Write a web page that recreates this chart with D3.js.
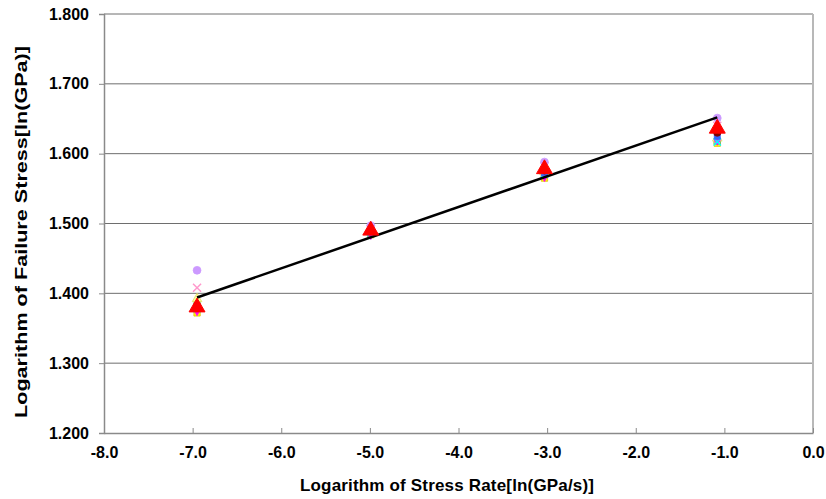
<!DOCTYPE html>
<html>
<head>
<meta charset="utf-8">
<script src="https://cdn.jsdelivr.net/npm/d3@7"></script>
<style>
  body { margin: 0; background: #fff; }
  text { font-family: "Liberation Sans", Arial, sans-serif; font-weight: bold; }
</style>
</head>
<body>
<svg id="chart"></svg>
<script>
const width = 826;
const height = 499;
const margin = {top: 14, right: 13, bottom: 66, left: 104};

// stress rate levels (x)
const stressRates = [-6.95, -4.99, -3.03, -1.08];

// failure stress, one list per specimen series
const seriesA = [1.372, 1.484, 1.565, 1.615];
const seriesB = [1.385, 1.486, 1.570, 1.618];
const seriesC = [1.392, 1.488, 1.574, 1.622];
const seriesD = [1.376, 1.485, 1.568, 1.620];
const seriesE = [1.378, 1.487, 1.571, 1.617];
const seriesF = [1.382, 1.489, 1.576, 1.630];
const seriesG = [1.380, 1.488, 1.573, 1.625];
const seriesH = [1.408, 1.492, 1.582, 1.640];
const seriesI = [1.433, 1.497, 1.588, 1.651];
const meanValues = [1.380, 1.490, 1.578, 1.636];

// fitted line end points
const fitX = [-6.95, -1.08];
const fitY = [1.394, 1.652];

const xTicks = [-8, -7, -6, -5, -4, -3, -2, -1, 0];
const yTicks = [1.2, 1.3, 1.4, 1.5, 1.6, 1.7, 1.8];

const series = [
  {values: seriesA, shape: d3.symbolSquare, fill: '#FFFF00', stroke: '#E0C000', size: 40},
  {values: seriesB, shape: d3.symbolSquare, fill: '#CCFFCC', stroke: '#66AA66', size: 40},
  {values: seriesC, shape: d3.symbolTriangle, fill: '#FFFF99', stroke: '#DDDD66', size: 40},
  {values: seriesD, shape: d3.symbolDiamond, fill: '#FF00FF', stroke: '#FF00FF', size: 36},
  {values: seriesE, shape: d3.symbolX, fill: '#00FFFF', stroke: '#00FFFF', size: 36},
  {values: seriesG, shape: d3.symbolSquare, fill: '#3366FF', stroke: '#3366FF', size: 36},
  {values: seriesF, shape: d3.symbolCircle, fill: '#800000', stroke: '#800000', size: 40},
  {values: seriesH, shape: d3.symbolX, fill: '#FF99CC', stroke: '#FF99CC', size: 44},
  {values: seriesI, shape: d3.symbolCircle, fill: '#CC99FF', stroke: '#CC99FF', size: 48}
];

const svg = d3.select('#chart').attr('width', width).attr('height', height);

const x = d3.scaleLinear().domain([-8, 0]).range([margin.left, width - margin.right]);
const y = d3.scaleLinear().domain([1.2, 1.8]).range([height - margin.bottom, margin.top]);

// hyphen minus like the original, not the unicode minus
const fmtX = d => d.toFixed(1);
const fmtY = d => d.toFixed(3);

// horizontal gridlines
svg.append('g').selectAll('line').data(yTicks.slice(1)).join('line')
  .attr('x1', x(-8)).attr('x2', x(0))
  .attr('y1', d => y(d)).attr('y2', d => y(d))
  .attr('stroke', '#6e6e6e').attr('stroke-width', 1);

// right border of plot area
svg.append('line')
  .attr('x1', x(0)).attr('x2', x(0)).attr('y1', y(1.8)).attr('y2', y(1.2))
  .attr('stroke', '#b8b8b8').attr('stroke-width', 2);

const yAxis = svg.append('g').attr('transform', `translate(${x(-8)},0)`)
  .call(d3.axisLeft(y).tickValues(yTicks).tickFormat(fmtY).tickSize(5).tickPadding(10));
const xAxis = svg.append('g').attr('transform', `translate(0,${y(1.2)})`)
  .call(d3.axisBottom(x).tickValues(xTicks).tickFormat(fmtX).tickSizeInner(-5).tickSizeOuter(0).tickPadding(14));

[yAxis, xAxis].forEach(a => {
  a.select('.domain').attr('stroke', '#8a8a8a').attr('stroke-width', 1.5);
  a.selectAll('.tick line').attr('stroke', '#8a8a8a');
  a.selectAll('text').attr('font-size', 16).attr('fill', '#000')
    .style('font-family', '"Liberation Sans", Arial, sans-serif').style('font-weight', 'bold');
});
xAxis.selectAll('.tick text').attr('dy', '0.71em');

// markers
series.forEach(s => {
  svg.append('g').selectAll('path').data(s.values).join('path')
    .attr('transform', (d, i) => `translate(${x(stressRates[i])},${y(d)})`)
    .attr('d', d3.symbol().type(s.shape).size(s.size))
    .attr('fill', s.fill)
    .attr('stroke', s.stroke)
    .attr('stroke-width', s.shape === d3.symbolX ? 1.5 : 0.8);
});

// fitted line
svg.append('path')
  .datum(fitX.map((d, i) => [d, fitY[i]]))
  .attr('fill', 'none').attr('stroke', '#000').attr('stroke-width', 2.5)
  .attr('d', d3.line().x(d => x(d[0])).y(d => y(d[1])));

// mean markers
svg.append('g').selectAll('path').data(meanValues).join('path')
  .attr('transform', (d, i) => `translate(${x(stressRates[i])},${y(d)})`)
  .attr('d', d3.symbol().type(d3.symbolTriangle).size(110))
  .attr('fill', '#FF0000').attr('stroke', '#FF0000');

svg.append('text')
  .attr('x', 447).attr('y', 491)
  .attr('text-anchor', 'middle').attr('font-size', 17)
  .attr('textLength', 294).attr('lengthAdjust', 'spacing')
  .text('Logarithm of Stress Rate[ln(GPa/s)]');

svg.append('text')
  .attr('transform', `translate(27,232) rotate(-90)`)
  .attr('text-anchor', 'middle').attr('font-size', 17)
  .attr('textLength', 372).attr('lengthAdjust', 'spacingAndGlyphs')
  .text('Logarithm of Failure Stress[ln(GPa)]');
</script>
</body>
</html>
